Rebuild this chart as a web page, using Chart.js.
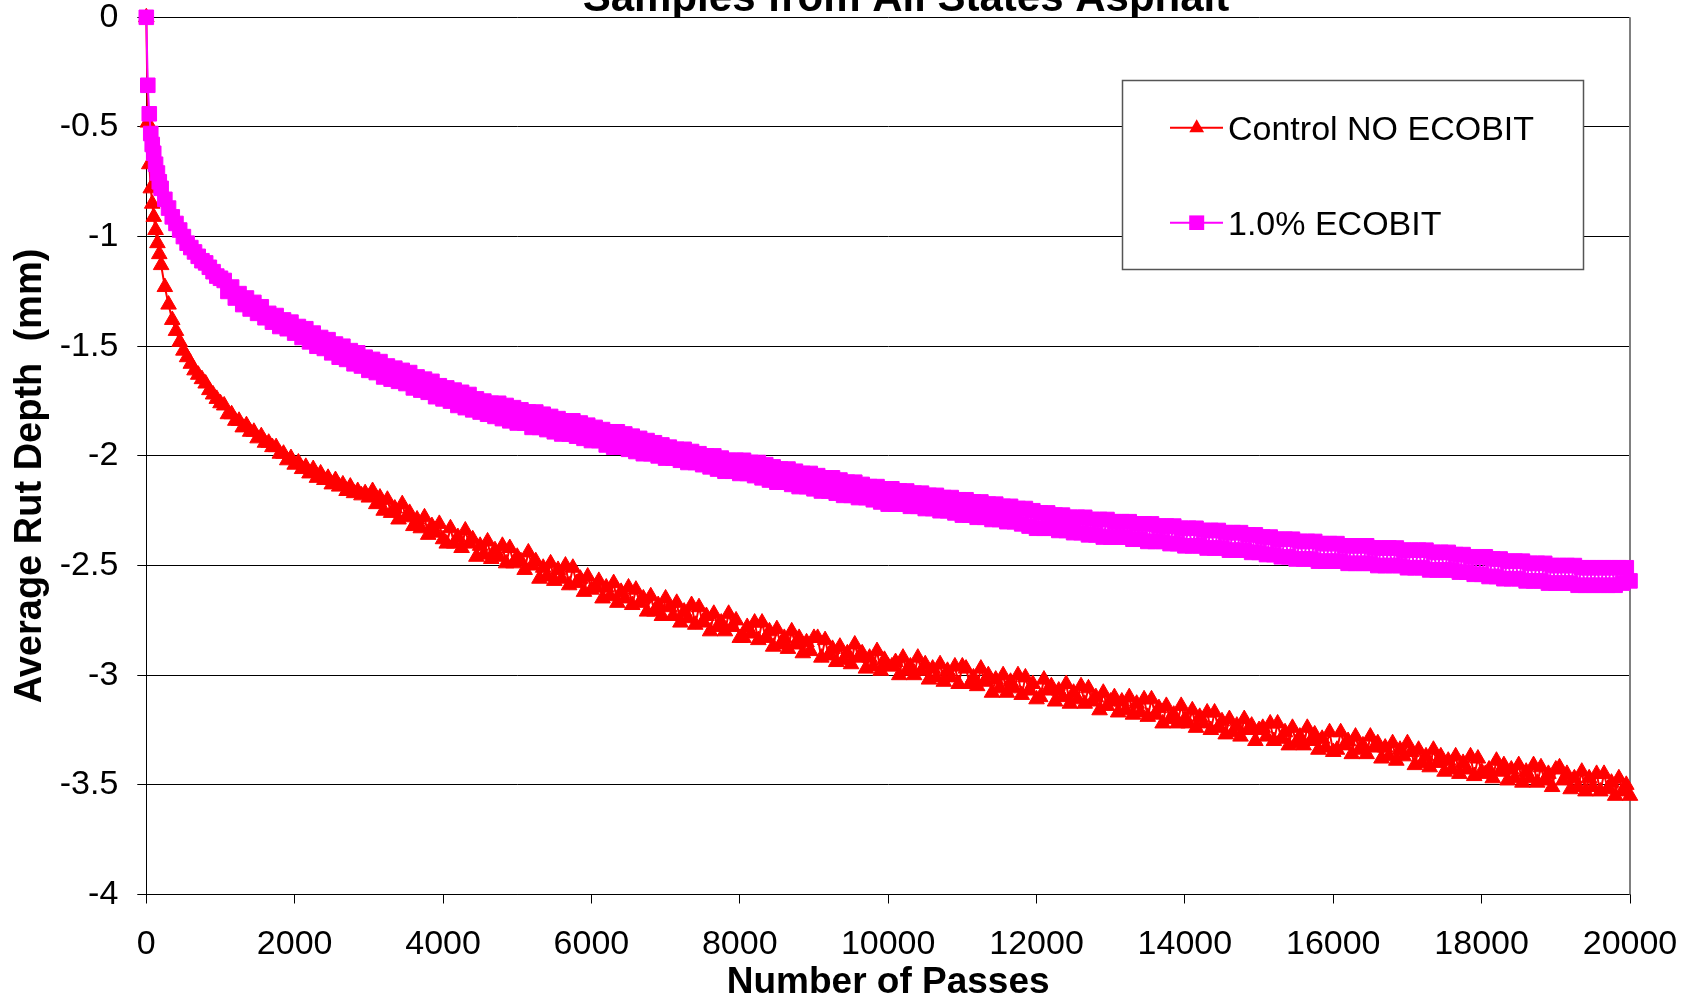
<!DOCTYPE html>
<html><head><meta charset="utf-8">
<script src="https://cdn.jsdelivr.net/npm/chart.js@4.4.1/dist/chart.umd.min.js"></script>
<style>html,body{margin:0;padding:0;background:#fff;overflow:hidden}#wrap{position:relative;width:1692px;height:997px}</style>
</head><body><div id="wrap"><canvas id="c" width="1692" height="997"></canvas></div>
<script>
const chartTitle = 'Samples from All States Asphalt';
const xAxisTitle = 'Number of Passes';
const yAxisTitle = 'Average Rut Depth  (mm)';
const seriesNames = ['Control NO ECOBIT', '1.0% ECOBIT'];
const seriesColors = ['#FF0000', '#FF00FF'];

const passes = [
  0,20,40,60,80,100,125,150,175,200,250,300,350,400,450,500,550,600,650,700,750,800,850,900,950,1000,
  1050,1100,1150,1200,1250,1300,1350,1400,1450,1500,1550,1600,1650,1700,1750,1800,1850,1900,1950,2000,
  2050,2100,2150,2200,2250,2300,2350,2400,2450,2500,2550,2600,2650,2700,2750,2800,2850,2900,2950,3000,
  3050,3100,3150,3200,3250,3300,3350,3400,3450,3500,3550,3600,3650,3700,3750,3800,3850,3900,3950,4000,
  4050,4100,4150,4200,4250,4300,4350,4400,4450,4500,4550,4600,4650,4700,4750,4800,4850,4900,4950,5000,
  5050,5100,5150,5200,5250,5300,5350,5400,5450,5500,5550,5600,5650,5700,5750,5800,5850,5900,5950,6000,
  6050,6100,6150,6200,6250,6300,6350,6400,6450,6500,6550,6600,6650,6700,6750,6800,6850,6900,6950,7000,
  7050,7100,7150,7200,7250,7300,7350,7400,7450,7500,7550,7600,7650,7700,7750,7800,7850,7900,7950,8000,
  8050,8100,8150,8200,8250,8300,8350,8400,8450,8500,8550,8600,8650,8700,8750,8800,8850,8900,8950,9000,
  9050,9100,9150,9200,9250,9300,9350,9400,9450,9500,9550,9600,9650,9700,9750,9800,9850,9900,9950,10000,
  10050,10100,10150,10200,10250,10300,10350,10400,10450,10500,10550,10600,10650,10700,10750,10800,10850,10900,10950,11000,
  11050,11100,11150,11200,11250,11300,11350,11400,11450,11500,11550,11600,11650,11700,11750,11800,11850,11900,11950,12000,
  12050,12100,12150,12200,12250,12300,12350,12400,12450,12500,12550,12600,12650,12700,12750,12800,12850,12900,12950,13000,
  13050,13100,13150,13200,13250,13300,13350,13400,13450,13500,13550,13600,13650,13700,13750,13800,13850,13900,13950,14000,
  14050,14100,14150,14200,14250,14300,14350,14400,14450,14500,14550,14600,14650,14700,14750,14800,14850,14900,14950,15000,
  15050,15100,15150,15200,15250,15300,15350,15400,15450,15500,15550,15600,15650,15700,15750,15800,15850,15900,15950,16000,
  16050,16100,16150,16200,16250,16300,16350,16400,16450,16500,16550,16600,16650,16700,16750,16800,16850,16900,16950,17000,
  17050,17100,17150,17200,17250,17300,17350,17400,17450,17500,17550,17600,17650,17700,17750,17800,17850,17900,17950,18000,
  18050,18100,18150,18200,18250,18300,18350,18400,18450,18500,18550,18600,18650,18700,18750,18800,18850,18900,18950,19000,
  19050,19100,19150,19200,19250,19300,19350,19400,19450,19500,19550,19600,19650,19700,19750,19800,19850,19900,19950,20000
];

const controlDepth = [
  0,-0.48,-0.67,-0.78,-0.85,-0.91,-0.97,-1.03,-1.08,-1.13,-1.23,-1.31,-1.38,-1.43,-1.48,-1.52,-1.55,-1.58,-1.61,-1.63,-1.65,-1.67,-1.70,-1.72,-1.74,-1.76,
  -1.77,-1.81,-1.81,-1.84,-1.84,-1.87,-1.86,-1.89,-1.89,-1.92,-1.91,-1.94,-1.94,-1.96,-1.96,-1.99,-1.99,-2.02,-2.01,-2.04,
  -2.03,-2.06,-2.05,-2.08,-2.06,-2.10,-2.08,-2.11,-2.10,-2.13,-2.11,-2.14,-2.13,-2.16,-2.14,-2.17,-2.16,-2.18,-2.17,-2.19,
  -2.16,-2.22,-2.19,-2.25,-2.20,-2.26,-2.24,-2.29,-2.22,-2.28,-2.26,-2.32,-2.29,-2.33,-2.28,-2.36,-2.32,-2.35,-2.31,-2.38,
  -2.40,-2.33,-2.40,-2.37,-2.42,-2.34,-2.40,-2.38,-2.46,-2.41,-2.45,-2.39,-2.47,-2.43,-2.46,-2.41,-2.49,-2.42,-2.49,-2.46,
  -2.48,-2.52,-2.44,-2.50,-2.48,-2.56,-2.51,-2.55,-2.49,-2.57,-2.52,-2.56,-2.50,-2.59,-2.51,-2.58,-2.56,-2.62,-2.55,-2.61,
  -2.60,-2.57,-2.65,-2.60,-2.64,-2.58,-2.67,-2.62,-2.65,-2.60,-2.68,-2.61,-2.67,-2.65,-2.71,-2.64,-2.71,-2.68,-2.73,-2.65,
  -2.69,-2.73,-2.67,-2.76,-2.71,-2.74,-2.68,-2.77,-2.69,-2.76,-2.73,-2.80,-2.72,-2.78,-2.76,-2.80,-2.72,-2.78,-2.75,-2.83,
  -2.83,-2.78,-2.81,-2.76,-2.84,-2.76,-2.83,-2.80,-2.87,-2.79,-2.86,-2.83,-2.88,-2.80,-2.86,-2.83,-2.90,-2.85,-2.89,-2.83,
  -2.83,-2.92,-2.84,-2.91,-2.88,-2.94,-2.87,-2.93,-2.90,-2.95,-2.86,-2.92,-2.90,-2.97,-2.92,-2.96,-2.89,-2.98,-2.93,-2.96,
  -2.96,-2.94,-3.00,-2.92,-2.98,-2.96,-3.00,-2.92,-2.98,-2.95,-3.02,-2.97,-3.01,-2.95,-3.03,-2.98,-3.01,-2.96,-3.04,-2.96,
  -2.97,-3.04,-3.01,-3.05,-2.97,-3.03,-3.00,-3.08,-3.02,-3.06,-3.00,-3.08,-3.03,-3.06,-3.00,-3.09,-3.01,-3.07,-3.04,-3.11,
  -3.10,-3.02,-3.07,-3.05,-3.12,-3.07,-3.10,-3.04,-3.13,-3.08,-3.11,-3.05,-3.13,-3.06,-3.12,-3.10,-3.16,-3.08,-3.14,-3.12,
  -3.10,-3.17,-3.12,-3.16,-3.10,-3.18,-3.13,-3.17,-3.11,-3.19,-3.11,-3.18,-3.15,-3.22,-3.14,-3.20,-3.18,-3.22,-3.14,-3.20,
  -3.22,-3.16,-3.24,-3.19,-3.22,-3.17,-3.25,-3.17,-3.24,-3.21,-3.27,-3.20,-3.26,-3.23,-3.28,-3.20,-3.25,-3.23,-3.30,-3.25,
  -3.24,-3.28,-3.22,-3.30,-3.22,-3.29,-3.26,-3.32,-3.24,-3.31,-3.28,-3.32,-3.24,-3.30,-3.27,-3.34,-3.29,-3.33,-3.26,-3.35,
  -3.34,-3.26,-3.32,-3.30,-3.36,-3.28,-3.34,-3.32,-3.36,-3.28,-3.33,-3.31,-3.38,-3.33,-3.37,-3.31,-3.39,-3.34,-3.37,-3.31,
  -3.35,-3.41,-3.34,-3.40,-3.37,-3.42,-3.34,-3.40,-3.37,-3.44,-3.39,-3.43,-3.37,-3.45,-3.40,-3.43,-3.37,-3.46,-3.38,-3.44,
  -3.45,-3.43,-3.47,-3.39,-3.44,-3.41,-3.48,-3.43,-3.47,-3.41,-3.49,-3.44,-3.47,-3.41,-3.49,-3.42,-3.48,-3.45,-3.51,-3.43,
  -3.42,-3.48,-3.45,-3.52,-3.47,-3.51,-3.44,-3.53,-3.47,-3.51,-3.45,-3.53,-3.45,-3.52,-3.49,-3.55,-3.47,-3.53,-3.50,-3.55
];

const ecobitDepth = [
  0,-0.31,-0.44,-0.53,-0.58,-0.62,-0.67,-0.71,-0.75,-0.78,-0.83,-0.87,-0.91,-0.94,-0.97,-1.00,-1.03,-1.05,-1.07,-1.09,-1.11,-1.12,-1.14,-1.16,-1.18,-1.19,
  -1.20,-1.25,-1.23,-1.28,-1.26,-1.31,-1.28,-1.33,-1.30,-1.35,-1.32,-1.37,-1.35,-1.39,-1.36,-1.41,-1.38,-1.42,-1.39,-1.44,
  -1.41,-1.46,-1.42,-1.48,-1.44,-1.50,-1.46,-1.51,-1.47,-1.53,-1.49,-1.55,-1.50,-1.56,-1.52,-1.58,-1.53,-1.59,-1.55,-1.61,
  -1.56,-1.62,-1.57,-1.64,-1.59,-1.65,-1.60,-1.66,-1.61,-1.67,-1.62,-1.69,-1.64,-1.70,-1.65,-1.71,-1.66,-1.73,-1.68,-1.74,
  -1.69,-1.75,-1.70,-1.77,-1.71,-1.78,-1.72,-1.79,-1.74,-1.80,-1.75,-1.81,-1.76,-1.82,-1.76,-1.83,-1.77,-1.84,-1.78,-1.85,
  -1.79,-1.85,-1.80,-1.87,-1.80,-1.87,-1.81,-1.88,-1.82,-1.89,-1.83,-1.90,-1.84,-1.90,-1.84,-1.91,-1.85,-1.92,-1.86,-1.93,
  -1.87,-1.93,-1.88,-1.95,-1.89,-1.96,-1.89,-1.96,-1.90,-1.97,-1.91,-1.98,-1.92,-1.99,-1.93,-1.99,-1.94,-2.00,-1.95,-2.01,
  -1.96,-2.01,-1.97,-2.02,-1.97,-2.03,-1.98,-2.03,-1.99,-2.04,-2.00,-2.05,-2.00,-2.06,-2.01,-2.07,-2.02,-2.07,-2.02,-2.08,
  -2.02,-2.08,-2.03,-2.09,-2.03,-2.10,-2.04,-2.11,-2.05,-2.12,-2.06,-2.12,-2.06,-2.13,-2.07,-2.14,-2.08,-2.14,-2.08,-2.15,
  -2.09,-2.16,-2.10,-2.16,-2.10,-2.17,-2.11,-2.18,-2.12,-2.18,-2.12,-2.19,-2.13,-2.19,-2.14,-2.20,-2.14,-2.21,-2.15,-2.22,
  -2.15,-2.22,-2.16,-2.22,-2.16,-2.23,-2.17,-2.23,-2.17,-2.24,-2.18,-2.24,-2.18,-2.25,-2.19,-2.25,-2.19,-2.26,-2.20,-2.27,
  -2.20,-2.27,-2.21,-2.28,-2.21,-2.28,-2.22,-2.29,-2.22,-2.29,-2.23,-2.30,-2.23,-2.30,-2.24,-2.31,-2.24,-2.32,-2.25,-2.33,
  -2.26,-2.33,-2.26,-2.33,-2.27,-2.34,-2.27,-2.34,-2.28,-2.35,-2.28,-2.35,-2.28,-2.36,-2.29,-2.36,-2.29,-2.37,-2.29,-2.37,
  -2.30,-2.37,-2.30,-2.37,-2.30,-2.38,-2.31,-2.38,-2.31,-2.39,-2.31,-2.39,-2.32,-2.39,-2.32,-2.40,-2.32,-2.40,-2.33,-2.41,
  -2.33,-2.41,-2.33,-2.41,-2.34,-2.42,-2.34,-2.42,-2.34,-2.42,-2.35,-2.43,-2.35,-2.43,-2.35,-2.43,-2.36,-2.44,-2.36,-2.44,
  -2.37,-2.45,-2.37,-2.45,-2.38,-2.46,-2.38,-2.46,-2.38,-2.47,-2.39,-2.47,-2.39,-2.47,-2.39,-2.48,-2.40,-2.48,-2.40,-2.48,
  -2.40,-2.48,-2.41,-2.49,-2.41,-2.49,-2.41,-2.49,-2.41,-2.49,-2.42,-2.50,-2.42,-2.50,-2.42,-2.50,-2.42,-2.50,-2.43,-2.51,
  -2.43,-2.51,-2.43,-2.51,-2.43,-2.52,-2.44,-2.52,-2.44,-2.52,-2.44,-2.52,-2.45,-2.53,-2.45,-2.53,-2.46,-2.54,-2.46,-2.54,
  -2.46,-2.55,-2.47,-2.55,-2.47,-2.56,-2.48,-2.56,-2.48,-2.56,-2.48,-2.57,-2.49,-2.57,-2.49,-2.57,-2.49,-2.58,-2.50,-2.58,
  -2.50,-2.58,-2.50,-2.58,-2.50,-2.59,-2.51,-2.59,-2.51,-2.59,-2.51,-2.59,-2.51,-2.59,-2.51,-2.59,-2.51,-2.58,-2.51,-2.57
];

const xTickValues = [0,2000,4000,6000,8000,10000,12000,14000,16000,18000,20000];
const xTickLabels = ['0','2000','4000','6000','8000','10000','12000','14000','16000','18000','20000'];
const yTickValues = [-4,-3.5,-3,-2.5,-2,-1.5,-1,-0.5,0];
const yTickLabels = ['-4','-3.5','-3','-2.5','-2','-1.5','-1','-0.5','0'];

const FAMILY = '"Liberation Sans", Arial, Helvetica, sans-serif';

function toPoints(values){ return passes.map((p,i)=>({x:p, y:values[i]})); }

const refPlugin = {
  id: 'refLayout',
  beforeDraw(chart){
    const {ctx, chartArea:a} = chart;
    ctx.save();
    ctx.fillStyle = '#fff';
    ctx.fillRect(0,0,chart.width,chart.height);
    ctx.fillStyle = '#000';
    ctx.font = 'bold 42px ' + FAMILY;
    ctx.textAlign = 'center';
    ctx.textBaseline = 'alphabetic';
    ctx.fillText(chartTitle, 906, 11);
    ctx.fillStyle = '#fff';
    ctx.fillRect(a.left, a.top, a.right-a.left, a.bottom-a.top);
    ctx.restore();
  },
  beforeDatasetsDraw(chart){
    const {ctx, chartArea:a} = chart;
    ctx.save();
    ctx.strokeStyle = '#808080';
    ctx.lineWidth = 2;
    ctx.beginPath();
    ctx.moveTo(a.right, a.top);
    ctx.lineTo(a.right, a.bottom);
    ctx.stroke();
    ctx.restore();
  },
  afterDatasetsDraw(chart){
    const {ctx} = chart;
    const lx = 1122.5, ly = 80.5, lw = 461, lh = 189;
    ctx.save();
    ctx.fillStyle = '#fff';
    ctx.fillRect(lx, ly, lw, lh);
    ctx.strokeStyle = '#555';
    ctx.lineWidth = 1.5;
    ctx.strokeRect(lx, ly, lw, lh);
    const rows = [127.7, 222.7];
    chart.data.datasets.forEach((ds, i) => {
      const y = rows[i];
      ctx.strokeStyle = ds.borderColor;
      ctx.lineWidth = 2;
      ctx.beginPath(); ctx.moveTo(1170, y); ctx.lineTo(1223, y); ctx.stroke();
      ctx.fillStyle = ds.backgroundColor;
      const mx = 1196.7;
      ctx.beginPath();
      if (ds.pointStyle === 'triangle') {
        ctx.moveTo(mx, y - 8.5);
        ctx.lineTo(mx + 7.4, y + 4.5);
        ctx.lineTo(mx - 7.4, y + 4.5);
        ctx.closePath();
      } else {
        ctx.rect(mx - 7.5, y - 7.3, 15, 14.6);
      }
      ctx.fill();
      ctx.fillStyle = '#000';
      ctx.font = '34px ' + FAMILY;
      ctx.textAlign = 'left';
      ctx.textBaseline = 'alphabetic';
      ctx.fillText(ds.label, 1228, y + 12.3);
    });
    ctx.restore();
  },
  afterDraw(chart){
    const {ctx} = chart;
    ctx.save();
    ctx.translate(31, 476);
    ctx.rotate(-Math.PI / 2);
    ctx.fillStyle = '#000';
    ctx.font = 'bold 38px ' + FAMILY;
    ctx.textAlign = 'center';
    ctx.textBaseline = 'middle';
    ctx.fillText(yAxisTitle, 0, 0);
    ctx.restore();
  }
};

new Chart(document.getElementById('c'), {
  type: 'line',
  data: {
    datasets: [
      {
        label: seriesNames[0], data: toPoints(controlDepth),
        borderColor: seriesColors[0], backgroundColor: seriesColors[0],
        borderWidth: 2, pointStyle: 'triangle', pointRadius: 9, pointHoverRadius: 9,
        pointBorderWidth: 1, tension: 0, clip: false, order: 2
      },
      {
        label: seriesNames[1], data: toPoints(ecobitDepth),
        borderColor: seriesColors[1], backgroundColor: seriesColors[1],
        borderWidth: 2, pointStyle: 'rect', pointRadius: 10.3, pointHoverRadius: 10.3,
        pointBorderWidth: 1, tension: 0, clip: false, order: 1
      }
    ]
  },
  options: {
    responsive: false, devicePixelRatio: 1, animation: false, events: [],
    layout: { padding: { top: 17.3, right: 62, bottom: 0, left: 0 } },
    plugins: { legend: { display: false }, title: { display: false }, tooltip: { enabled: false } },
    scales: {
      x: {
        type: 'linear', min: 0, max: 20000,
        afterBuildTicks: s => { s.ticks = xTickValues.map(v => ({ value: v })); },
        afterFit: s => { s.height = 102.5; s.paddingLeft = 0; s.paddingRight = 0; },
        ticks: { callback: (v, i) => xTickLabels[i], color: '#000', font: { family: FAMILY, size: 34 }, padding: 21, maxRotation: 0, autoSkip: false },
        grid: { drawOnChartArea: false, drawTicks: true, tickLength: 9, color: '#000', lineWidth: 1 },
        border: { display: true, color: '#000', width: 1 },
        title: { display: true, text: xAxisTitle, color: '#000', font: { family: FAMILY, size: 37, weight: 'bold', lineHeight: 0.75 }, padding: { top: 0, bottom: 0 } }
      },
      y: {
        type: 'linear', min: -4, max: 0,
        afterBuildTicks: s => { s.ticks = yTickValues.map(v => ({ value: v })); },
        afterFit: s => { s.width = 146.3; s.paddingTop = 0; s.paddingBottom = 0; },
        ticks: { callback: (v, i) => yTickLabels[i], color: '#000', font: { family: FAMILY, size: 34 }, padding: 19, autoSkip: false },
        grid: { drawOnChartArea: true, drawTicks: true, tickLength: 9, color: '#000', lineWidth: 1 },
        border: { display: true, color: '#000', width: 1 },
        title: { display: false, text: yAxisTitle }
      }
    }
  },
  plugins: [refPlugin]
});
</script>
</body></html>
